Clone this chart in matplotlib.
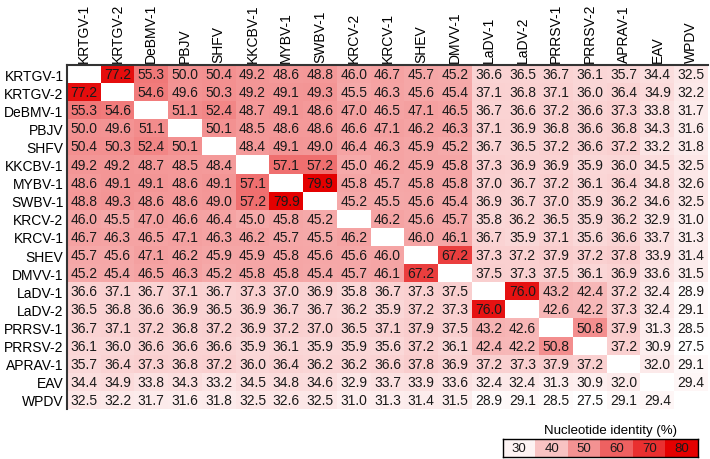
import numpy as np
import matplotlib
matplotlib.use("Agg")
import matplotlib.pyplot as plt
from matplotlib.colors import LinearSegmentedColormap, Normalize

plt.rcParams["font.family"] = ["Liberation Sans", "DejaVu Sans"]

viruses = [
    "KRTGV-1", "KRTGV-2", "DeBMV-1", "PBJV", "SHFV", "KKCBV-1", "MYBV-1",
    "SWBV-1", "KRCV-2", "KRCV-1", "SHEV", "DMVV-1", "LaDV-1", "LaDV-2",
    "PRRSV-1", "PRRSV-2", "APRAV-1", "EAV", "WPDV",
]

# lower triangle of the identity matrix, row by row (diagonal left blank)
lower = [
    [],
    [77.2],
    [55.3, 54.6],
    [50.0, 49.6, 51.1],
    [50.4, 50.3, 52.4, 50.1],
    [49.2, 49.2, 48.7, 48.5, 48.4],
    [48.6, 49.1, 49.1, 48.6, 49.1, 57.1],
    [48.8, 49.3, 48.6, 48.6, 49.0, 57.2, 79.9],
    [46.0, 45.5, 47.0, 46.6, 46.4, 45.0, 45.8, 45.2],
    [46.7, 46.3, 46.5, 47.1, 46.3, 46.2, 45.7, 45.5, 46.2],
    [45.7, 45.6, 47.1, 46.2, 45.9, 45.9, 45.8, 45.6, 45.6, 46.0],
    [45.2, 45.4, 46.5, 46.3, 45.2, 45.8, 45.8, 45.4, 45.7, 46.1, 67.2],
    [36.6, 37.1, 36.7, 37.1, 36.7, 37.3, 37.0, 36.9, 35.8, 36.7, 37.3, 37.5],
    [36.5, 36.8, 36.6, 36.9, 36.5, 36.9, 36.7, 36.7, 36.2, 35.9, 37.2, 37.3, 76.0],
    [36.7, 37.1, 37.2, 36.8, 37.2, 36.9, 37.2, 37.0, 36.5, 37.1, 37.9, 37.5, 43.2, 42.6],
    [36.1, 36.0, 36.6, 36.6, 36.6, 35.9, 36.1, 35.9, 35.9, 35.6, 37.2, 36.1, 42.4, 42.2, 50.8],
    [35.7, 36.4, 37.3, 36.8, 37.2, 36.0, 36.4, 36.2, 36.2, 36.6, 37.8, 36.9, 37.2, 37.3, 37.9, 37.2],
    [34.4, 34.9, 33.8, 34.3, 33.2, 34.5, 34.8, 34.6, 32.9, 33.7, 33.9, 33.6, 32.4, 32.4, 31.3, 30.9, 32.0],
    [32.5, 32.2, 31.7, 31.6, 31.8, 32.5, 32.6, 32.5, 31.0, 31.3, 31.4, 31.5, 28.9, 29.1, 28.5, 27.5, 29.1, 29.4],
]

legend_ticks = [30, 40, 50, 60, 70, 80]

n = len(viruses)
mat = np.full((n, n), np.nan)
for i, row in enumerate(lower):
    for j, v in enumerate(row):
        mat[i, j] = v
        mat[j, i] = v

cmap = LinearSegmentedColormap.from_list("wr", ["#ffffff", "#e40000"])
cmap.set_bad("white")
norm = Normalize(vmin=27.5, vmax=80)

fig = plt.figure(figsize=(7.1, 4.6), dpi=100)
ax = fig.add_axes([67 / 710, 50 / 460, 641 / 710, 344 / 460])
ax.imshow(np.ma.masked_invalid(mat), cmap=cmap, norm=norm, aspect="auto",
          interpolation="nearest")

for i in range(n):
    for j in range(n):
        if not np.isnan(mat[i, j]):
            ax.text(j, i, f"{mat[i, j]:.1f}", ha="center", va="center",
                    fontsize=10, color="#1a1a1a")

ax.set_xticks(range(n))
ax.set_yticks(range(n))
ax.set_xticklabels(viruses, rotation=90, fontsize=10)
ax.set_yticklabels(viruses, fontsize=10)
ax.xaxis.tick_top()
ax.tick_params(length=0, pad=2.5)
for side in ["right", "bottom"]:
    ax.spines[side].set_visible(False)
for side in ["top", "left"]:
    ax.spines[side].set_color("#333333")
    ax.spines[side].set_linewidth(1.5)

# colour key
lax = fig.add_axes([503 / 710, 2 / 460, 195 / 710, 18 / 460])
lax.imshow(np.array([legend_ticks]), cmap=cmap, norm=norm, aspect="auto")
for k, t in enumerate(legend_ticks):
    lax.text(k, 0, str(t), ha="center", va="center", fontsize=9.5, color="#1a1a1a")
lax.set_xticks([])
lax.set_yticks([])
for s in lax.spines.values():
    s.set_linewidth(1.0)
fig.text(610 / 710, 1 - 431 / 460, "Nucleotide identity (%)", ha="center",
         va="center", fontsize=9.5)

fig.savefig("out.png", dpi=100)
